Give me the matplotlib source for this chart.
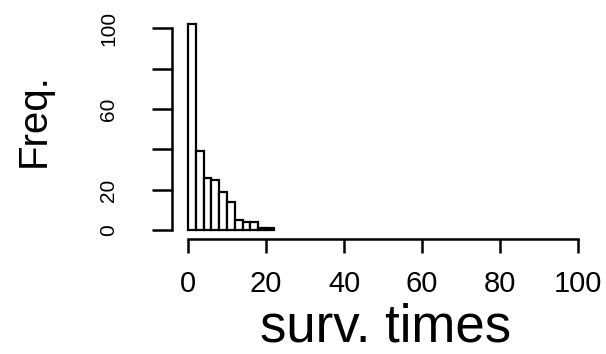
import matplotlib
matplotlib.use("Agg")
import matplotlib.pyplot as plt

# histogram of survival times, bins of width 2
bin_edges = [0, 2, 4, 6, 8, 10, 12, 14, 16, 18, 20, 22]
counts = [102, 39, 26, 25, 19, 14, 5, 4, 4, 1, 1]
x_ticks = [0, 20, 40, 60, 80, 100]
y_ticks = [0, 20, 40, 60, 80, 100]
y_tick_labels = ["0", "20", "", "60", "", "100"]

plt.rcParams['font.family'] = ['Liberation Sans', 'DejaVu Sans']

W, H = 606, 354
fig = plt.figure(figsize=(W / 100, H / 100), dpi=100)

# axes placed in pixel terms
left_px, right_px = 171.7, 594.3
top_px, bottom_px = 10, 239
ax = fig.add_axes([left_px / W, (H - bottom_px) / H,
                   (right_px - left_px) / W, (bottom_px - top_px) / H])

widths = [bin_edges[i + 1] - bin_edges[i] for i in range(len(counts))]
ax.bar(bin_edges[:-1], counts, width=widths, align='edge',
       facecolor='white', edgecolor='black', linewidth=1.6)

ax.set_xlim(-4.18, 104.18)
ax.set_ylim(-4.3, 109)

for s in ['top', 'right']:
    ax.spines[s].set_visible(False)
ax.spines['left'].set_bounds(0, 100)
ax.spines['bottom'].set_bounds(0, 100)
ax.spines['left'].set_linewidth(1.8)
ax.spines['bottom'].set_linewidth(1.8)

ax.set_xticks(x_ticks)
ax.set_xticklabels([str(t) for t in x_ticks], fontsize=21)
ax.set_yticks(y_ticks)
ax.set_yticklabels(y_tick_labels, fontsize=15, rotation=90, va='center')
ax.tick_params(axis='x', length=10, width=1.8, pad=12)
ax.tick_params(axis='y', length=14.4, width=1.8, pad=24)

fig.text(386 / W, 1 / H, "surv. times", fontsize=38, ha='center', va='bottom')
fig.text(34 / W, (H - 120) / H, "Freq.", fontsize=29, rotation=90,
         ha='center', va='center')

fig.savefig("out.png", dpi=100, facecolor='white')
